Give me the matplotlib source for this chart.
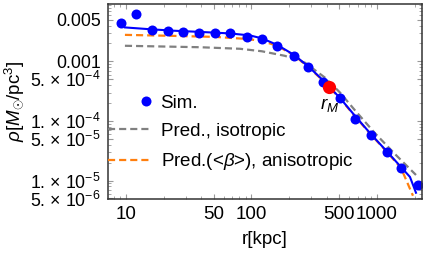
import numpy as np
import matplotlib
matplotlib.use("Agg")
import matplotlib.pyplot as plt
from matplotlib.lines import Line2D
from matplotlib.legend_handler import HandlerLine2D
from matplotlib.ticker import FixedLocator, LogLocator, NullFormatter

plt.rcParams['font.family'] = ['Liberation Sans', 'DejaVu Sans']
plt.rcParams['mathtext.fontset'] = 'custom'
plt.rcParams['mathtext.rm'] = 'Liberation Sans'
plt.rcParams['mathtext.it'] = 'Liberation Sans:italic'
plt.rcParams['mathtext.bf'] = 'Liberation Sans:bold'

# simulation points (r in kpc, rho in Msun/pc^3)
sim_r = [9.1, 12.0, 16.0, 21.5, 28.4, 38.2, 51.2, 67.8, 91.6, 120.6, 160.6,
         218, 284, 371, 508, 668, 901, 1208, 1553, 2134]
sim_rho = [4.47e-3, 6.24e-3, 3.37e-3, 3.25e-3, 3.13e-3, 3.04e-3, 3.01e-3,
           2.97e-3, 2.61e-3, 2.36e-3, 1.83e-3, 1.25e-3, 7.91e-4, 4.59e-4,
           2.39e-4, 1.10e-4, 5.85e-5, 3.04e-5, 1.63e-5, 8.48e-6]

# fit through the simulation
fit_r = [9.82, 15.5, 24.5, 38.9, 67.4, 97.3, 121, 160, 218, 282, 371, 507,
         668, 896, 1202, 1553, 1832, 2046]
fit_rho = [3.72e-3, 3.47e-3, 3.27e-3, 3.13e-3, 2.95e-3, 2.73e-3, 2.44e-3,
           1.90e-3, 1.29e-3, 8.32e-4, 4.86e-4, 2.44e-4, 1.22e-4, 6.00e-5,
           3.07e-5, 1.69e-5, 1.15e-5, 6.24e-6]

# prediction, isotropic
iso_r = [9.82, 38.9, 80.8, 121, 185, 267, 385, 507, 668, 964, 1390, 2046]
iso_rho = [1.83e-3, 1.73e-3, 1.63e-3, 1.48e-3, 1.24e-3, 9.51e-4, 5.35e-4,
           3.01e-4, 1.51e-4, 6.24e-5, 2.79e-5, 1.24e-5]

# prediction with <beta>, anisotropic
ani_r = [9.82, 24.5, 51.2, 90.3, 121, 160, 218, 282, 371, 507, 668, 896,
         1202, 1553, 1936]
ani_rho = [2.79e-3, 2.68e-3, 2.58e-3, 2.39e-3, 2.21e-3, 1.83e-3, 1.27e-3,
           8.16e-4, 4.77e-4, 2.39e-4, 1.20e-4, 5.89e-5, 3.01e-5, 1.63e-5,
           5.56e-6]

rM_r = 417
rM_rho = 3.69e-4

xticks = [10, 50, 100, 500, 1000]
xticklabels = ['10', '50', '100', '500', '1000']
yticks = [5e-3, 1e-3, 5e-4, 1e-4, 5e-5, 1e-5, 5e-6]
yticklabels = ['0.005', '0.001', '5. × 10$^{−4}$', '1. × 10$^{−4}$',
               '5. × 10$^{−5}$', '1. × 10$^{−5}$', '5. × 10$^{−6}$']


class MarkerRight(HandlerLine2D):
    # single marker sits near the right end of the handle (middle of xdata)
    def get_xdata(self, legend, xdescent, ydescent, width, height, fontsize):
        xdata = np.array([-xdescent + 0.84 * width, -xdescent + width])
        return xdata, np.array([-xdescent + 0.92 * width])


fig = plt.figure(figsize=(4.30, 2.58), dpi=100)
ax = fig.add_axes([0.2512, 0.2287, 0.7302, 0.7558])

ax.plot(ani_r, ani_rho, '--', color='#FF7F0E', lw=1.6, dashes=(3.2, 1.8))
ax.plot(iso_r, iso_rho, '--', color='#808080', lw=1.6, dashes=(3.2, 1.8))
ax.plot(fit_r, fit_rho, '-', color='#0000FF', lw=1.5)
ax.plot(sim_r, sim_rho, 'o', color='#0000FF', ms=7.2, mew=0)
ax.plot([rM_r], [rM_rho], 'o', color='#FF0000', ms=9.5, mew=0, zorder=5)
ax.annotate('$r_M$', (rM_r, rM_rho), xytext=(0, -13), textcoords='offset points',
            ha='center', va='center', fontsize=13.5)

ax.set_xscale('log')
ax.set_yscale('log')
ax.set_xlim(7.2, 2285)
ax.set_ylim(4.9e-6, 9.2e-3)

ax.xaxis.set_major_locator(FixedLocator(xticks))
ax.set_xticklabels(xticklabels)
ax.yaxis.set_major_locator(FixedLocator(yticks))
ax.set_yticklabels(yticklabels)
ax.xaxis.set_minor_locator(LogLocator(base=10, subs=np.arange(2, 10)))
ax.yaxis.set_minor_locator(LogLocator(base=10, subs=np.arange(2, 10)))
ax.xaxis.set_minor_formatter(NullFormatter())
ax.yaxis.set_minor_formatter(NullFormatter())

ax.tick_params(which='both', direction='in', top=True, right=True,
               color='#999999')
ax.tick_params(axis='x', labelsize=13.5)
ax.tick_params(axis='y', labelsize=12.8)
ax.tick_params(which='major', length=3.5, width=0.8, pad=5)
ax.tick_params(which='minor', length=2, width=0.6)
for sp in ax.spines.values():
    sp.set_color('#333333')
    sp.set_linewidth(1.1)

ax.set_xlabel('r[kpc]', fontsize=13.5, labelpad=6)
ax.set_ylabel(r'$\rho[M_{\odot}/\mathrm{pc}^3]$', fontsize=13.5, labelpad=3)

handles = [
    Line2D([], [], ls='none', marker='o', color='#0000FF', ms=7.2, mew=0),
    Line2D([], [], ls='--', color='#808080', lw=1.6, dashes=(3.2, 1.8)),
    Line2D([], [], ls='--', color='#FF7F0E', lw=1.6, dashes=(3.2, 1.8)),
]
labels = ['Sim.', 'Pred., isotropic', r'Pred.(<$\beta$>), anisotropic']
ax.legend(handles, labels, loc='upper left', bbox_to_anchor=(0, 0.536),
          frameon=False, fontsize=13.5, borderpad=0, borderaxespad=0,
          handlelength=2.2, handletextpad=0.6, labelspacing=0.6, numpoints=1,
          handler_map={handles[0]: MarkerRight()})

fig.savefig('out.png', dpi=100)
